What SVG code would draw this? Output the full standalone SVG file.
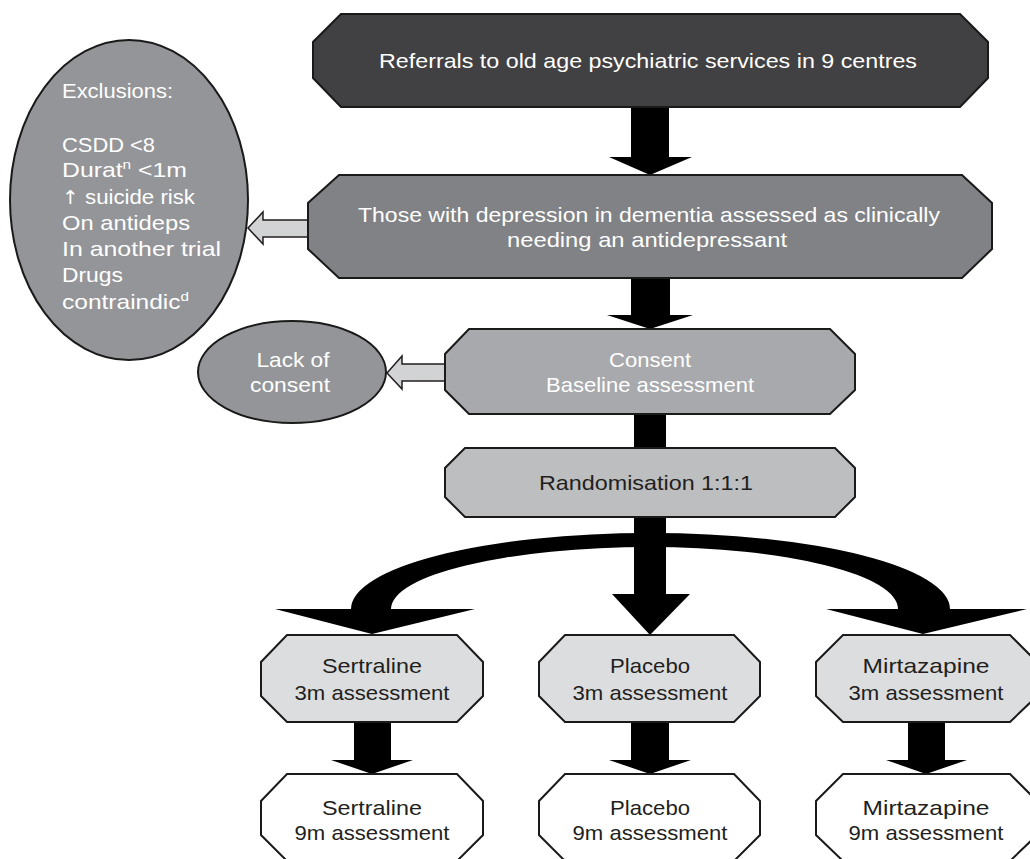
<svg xmlns="http://www.w3.org/2000/svg" width="1030" height="859" viewBox="0 0 1030 859">
<style>
.box{stroke:#1a1a1a;stroke-width:2;stroke-linejoin:miter}
.ell{stroke:#1a1a1a;stroke-width:2}
.t{font-family:"Liberation Sans","DejaVu Sans",sans-serif;font-size:21px;text-anchor:middle}
.tl{font-family:"Liberation Sans","DejaVu Sans",sans-serif;font-size:21px}
.w{fill:#ffffff}
.d{fill:#231f20}
.blk{fill:#000000}
.excl{fill:#d1d3d4;stroke:#231f20;stroke-width:1.5}
</style>
<rect width="1030" height="859" fill="#ffffff"/>
<g id="connectors">
  <rect class="blk" x="631" y="106" width="38" height="52"/>
  <polygon class="blk" points="609,157 692,157 650,175"/>
  <rect class="blk" x="631" y="277" width="39" height="39"/>
  <polygon class="blk" points="607,315 693,315 650,329"/>
  <rect class="blk" x="634" y="413" width="32" height="36"/>
  <rect class="blk" x="634" y="516" width="32" height="79"/>
  <polygon class="blk" points="612,594 690,594 650,635"/>
  <path class="blk" d="M351 609 A299 76 0 0 1 650 533 A300 76 0 0 1 950 609 L898 609 A248 62 0 0 0 650 547 A259 62 0 0 0 391 609 Z"/>
  <polygon class="blk" points="275,609 475,609 372,634"/>
  <polygon class="blk" points="826,609 1027,609 923,634"/>
  <rect class="blk" x="354" y="721" width="37" height="40"/>
  <polygon class="blk" points="331,760 413,760 372,774"/>
  <rect class="blk" x="631" y="721" width="38" height="40"/>
  <polygon class="blk" points="609,760 691,760 650,774"/>
  <rect class="blk" x="908" y="721" width="37" height="40"/>
  <polygon class="blk" points="886,760 967,760 926,774"/>
  <polygon class="excl" points="248,228 263,212 263,220 309,220 309,237 263,237 263,244"/>
  <polygon class="excl" points="387,373 402,356 402,364 446,364 446,381 402,381 402,389"/>
</g>
<g id="referrals">
  <polygon class="box" fill="#414042" points="341,14 960,14 988,42 988,78 960,107 341,107 313,78 313,42"/>
  <text class="t w" x="648" y="68" textLength="538" lengthAdjust="spacingAndGlyphs">Referrals to old age psychiatric services in 9 centres</text>
</g>
<g id="depression">
  <polygon class="box" fill="#808285" points="339,175 962,175 992,203 992,249 962,278 339,278 308,249 308,203"/>
  <text class="t w" x="649" y="222" textLength="582" lengthAdjust="spacingAndGlyphs">Those with depression in dementia assessed as clinically</text>
  <text class="t w" x="647" y="247" textLength="280" lengthAdjust="spacingAndGlyphs">needing an antidepressant</text>
</g>
<g id="exclusions">
  <ellipse class="ell" fill="#939598" cx="129" cy="200" rx="119" ry="160"/>
  <text class="tl w" x="62" y="98" textLength="111" lengthAdjust="spacingAndGlyphs">Exclusions:</text>
  <text class="tl w" x="62" y="152" textLength="93" lengthAdjust="spacingAndGlyphs">CSDD &lt;8</text>
  <text class="tl w" x="62" y="177" textLength="125" lengthAdjust="spacingAndGlyphs">Durat<tspan font-size="13" dy="-8">n</tspan><tspan dy="8"> &lt;1m</tspan></text>
  <text class="tl w" x="62" y="204" textLength="133" lengthAdjust="spacingAndGlyphs"><tspan font-family="DejaVu Sans" font-size="19">↑</tspan> suicide risk</text>
  <text class="tl w" x="62" y="230" textLength="128" lengthAdjust="spacingAndGlyphs">On antideps</text>
  <text class="tl w" x="62" y="256" textLength="159" lengthAdjust="spacingAndGlyphs">In another trial</text>
  <text class="tl w" x="62" y="282" textLength="61" lengthAdjust="spacingAndGlyphs">Drugs</text>
  <text class="tl w" x="62" y="309" textLength="127" lengthAdjust="spacingAndGlyphs">contraindic<tspan font-size="13" dy="-8">d</tspan></text>
</g>
<g id="consent">
  <polygon class="box" fill="#a7a9ac" points="469,329 830,329 855,354 855,390 830,414 469,414 445,390 445,354"/>
  <text class="t w" x="650" y="367" textLength="82" lengthAdjust="spacingAndGlyphs">Consent</text>
  <text class="t w" x="650" y="392" textLength="208" lengthAdjust="spacingAndGlyphs">Baseline assessment</text>
</g>
<g id="lack-of-consent">
  <ellipse class="ell" fill="#939598" cx="292" cy="372" rx="94" ry="51"/>
  <text class="t w" x="293" y="367" textLength="73" lengthAdjust="spacingAndGlyphs">Lack of</text>
  <text class="t w" x="290" y="392" textLength="80" lengthAdjust="spacingAndGlyphs">consent</text>
</g>
<g id="randomisation">
  <polygon class="box" fill="#bcbec0" points="465,448 835,448 855,468 855,497 835,517 465,517 445,497 445,468"/>
  <text class="t d" x="646" y="490" textLength="214" lengthAdjust="spacingAndGlyphs">Randomisation 1:1:1</text>
</g>
<g id="sertraline-3m">
  <polygon class="box" fill="#dcddde" points="287,635 457,635 483,662 483,696 457,722 287,722 261,696 261,662"/>
  <text class="t d" x="372" y="673" textLength="100" lengthAdjust="spacingAndGlyphs">Sertraline</text>
  <text class="t d" x="372" y="700" textLength="155" lengthAdjust="spacingAndGlyphs">3m assessment</text>
</g>
<g id="placebo-3m">
  <polygon class="box" fill="#dcddde" points="565,635 734,635 760,662 760,696 734,722 565,722 539,696 539,662"/>
  <text class="t d" x="650" y="673" textLength="80" lengthAdjust="spacingAndGlyphs">Placebo</text>
  <text class="t d" x="650" y="700" textLength="155" lengthAdjust="spacingAndGlyphs">3m assessment</text>
</g>
<g id="mirtazapine-3m">
  <polygon class="box" fill="#dcddde" points="843,635 1010,635 1037,662 1037,696 1010,722 843,722 816,696 816,662"/>
  <text class="t d" x="926" y="673" textLength="127" lengthAdjust="spacingAndGlyphs">Mirtazapine</text>
  <text class="t d" x="926" y="700" textLength="155" lengthAdjust="spacingAndGlyphs">3m assessment</text>
</g>
<g id="sertraline-9m">
  <polygon class="box" fill="#ffffff" points="287,774 457,774 483,801 483,835 457,861 287,861 261,835 261,801"/>
  <text class="t d" x="372" y="815" textLength="100" lengthAdjust="spacingAndGlyphs">Sertraline</text>
  <text class="t d" x="372" y="840" textLength="155" lengthAdjust="spacingAndGlyphs">9m assessment</text>
</g>
<g id="placebo-9m">
  <polygon class="box" fill="#ffffff" points="565,774 734,774 760,801 760,835 734,861 565,861 539,835 539,801"/>
  <text class="t d" x="650" y="815" textLength="80" lengthAdjust="spacingAndGlyphs">Placebo</text>
  <text class="t d" x="650" y="840" textLength="155" lengthAdjust="spacingAndGlyphs">9m assessment</text>
</g>
<g id="mirtazapine-9m">
  <polygon class="box" fill="#ffffff" points="843,774 1010,774 1037,801 1037,835 1010,861 843,861 816,835 816,801"/>
  <text class="t d" x="926" y="815" textLength="127" lengthAdjust="spacingAndGlyphs">Mirtazapine</text>
  <text class="t d" x="926" y="840" textLength="155" lengthAdjust="spacingAndGlyphs">9m assessment</text>
</g>
</svg>
